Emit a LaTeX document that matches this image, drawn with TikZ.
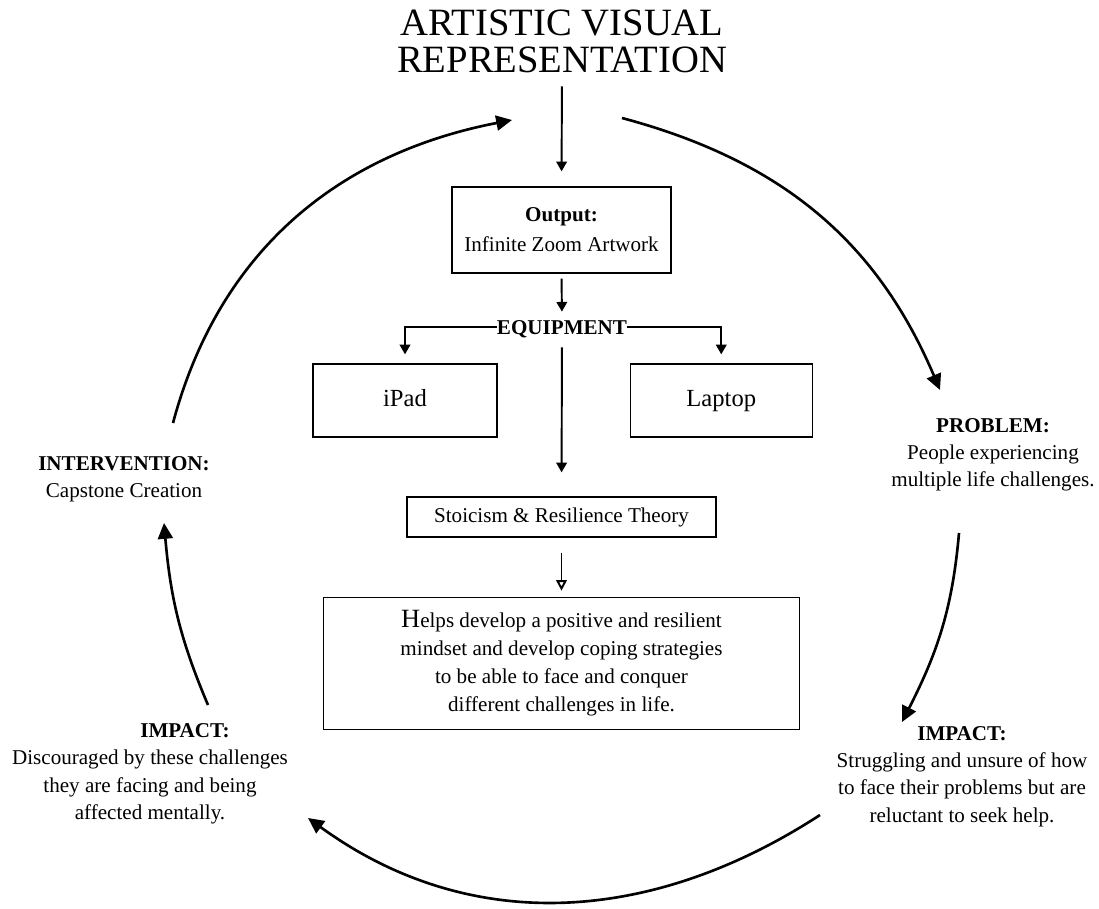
\documentclass[tikz,border=0pt]{standalone}
\usepackage{fontspec}
\setmainfont{Liberation Serif}
\usetikzlibrary{arrows.meta}
\usetikzlibrary{positioning}
\tikzstyle{plainbox}=[draw, rectangle, line width=0.75pt, inner sep=0pt,
					align=center, font=\fontsize{12}{17}\selectfont]

\begin{document}
\begin{tikzpicture}[x=0.02cm, y=-0.02cm,
 arrowline/.style={-{Triangle[length=5.5pt, width=6pt]}, line width=1.1pt},
 openline/.style={-{Triangle[open, length=6pt, width=6pt]}, line width=1.1pt},
 cycleline/.style={-{Triangle[length=9pt, width=8.5pt]}, line width=1.5pt},
 devicebox/.style={plainbox, minimum height=1.46cm, text height=10pt, text depth=3pt, font=\fontsize{14}{17}\selectfont},
 labelnode/.style={align=center, inner sep=0pt, anchor=north, font=\fontsize{12}{15.5}\selectfont},
 ]
 \useasboundingbox (0,0) rectangle (1099,909);
 %Nodes
 \node[inner sep=0pt, align=center, font=\fontsize{22}{21}\selectfont] (title_node) at (562,41.5) {ARTISTIC VISUAL\\REPRESENTATION};
 \node[plainbox, minimum width=4.38cm, minimum height=1.72cm] (output_node) at (561.5,230) {\textbf{Output:}\\Infinite Zoom Artwork};
 \node[inner sep=0pt, text height=8pt, text depth=0pt, font=\fontsize{12}{14}\selectfont\bfseries] (equip_node) at (562,327) {EQUIPMENT};
 \node[devicebox, minimum width=3.68cm] (ipad_node) at (405,400.5) {iPad};
 \node[devicebox, minimum width=3.64cm] (laptop_node) [right=2.64cm of ipad_node] {Laptop};
 \node[plainbox, minimum width=6.18cm, minimum height=0.8cm] (stoic_node) at (561.5,517) {Stoicism \& Resilience Theory};
 \node[plainbox, minimum width=9.52cm, minimum height=2.64cm, font=\fontsize{12}{16}\selectfont] (helps_node) [below=1.18cm of stoic_node] {{\fontsize{15}{16}\selectfont H}elps develop a positive and resilient\\mindset and develop coping strategies\\to be able to face and conquer\\different challenges in life.};

 \node[labelnode] (problem_node) at (993,418) {\textbf{PROBLEM:}\\People experiencing\\multiple life challenges.};
 \node[labelnode] (impact_r_node) at (962,726) {\textbf{IMPACT:}\\Struggling and unsure of how\\to face their problems but are\\reluctant to seek help.};
 \node[labelnode] (impact_l_head) at (185,723) {\textbf{IMPACT:}};
 \node[labelnode] (impact_l_node) at (150,750) {Discouraged by these challenges\\they are facing and being\\affected mentally.};
 \node[labelnode] (interv_node) at (124,456) {\textbf{INTERVENTION:}\\Capstone Creation};

 %Cycle ends
 \coordinate (art_right) at (622,118);
 \coordinate (problem_in) at (940,390);
 \coordinate (problem_out) at (959,533);
 \coordinate (impact_r_in) at (902,722);
 \coordinate (impact_r_out) at (820,815);
 \coordinate (impact_l_in) at (308,818);
 \coordinate (impact_l_out) at (208,705);
 \coordinate (interv_in) at (164,523);
 \coordinate (interv_out) at (173,423);
 \coordinate (art_left) at (512,120);

 %Lines
 \draw[arrowline, shorten <=0.26cm, shorten >=0.3cm] (title_node.south) -- (output_node.north);
 \draw[arrowline, shorten <=0.1cm, shorten >=0.16cm] (output_node.south) -- (equip_node.north);
 \draw[arrowline, shorten >=0.18cm] (equip_node.west) -| (ipad_node.north);
 \draw[arrowline, shorten >=0.18cm] (equip_node.east) -| (laptop_node.north);
 \draw[arrowline, shorten <=0.26cm, shorten >=0.48cm] (equip_node.south) -- (stoic_node.north);
 \draw[openline, shorten <=0.3cm, shorten >=0.12cm] (stoic_node.south) -- (helps_node.north);

 %Cycle
 \draw[cycleline] (art_right) to[out=-15, in=113] (problem_in);
 \draw[cycleline] (problem_out) to[out=-95, in=63] (impact_r_in);
 \draw[cycleline] (impact_r_out) to[out=213, in=-36] (impact_l_in);
 \draw[cycleline] (impact_l_out) to[out=113, in=-85] (interv_in);
 \draw[cycleline] (interv_out) to[out=75, in=191] (art_left);
\end{tikzpicture}
\end{document}
